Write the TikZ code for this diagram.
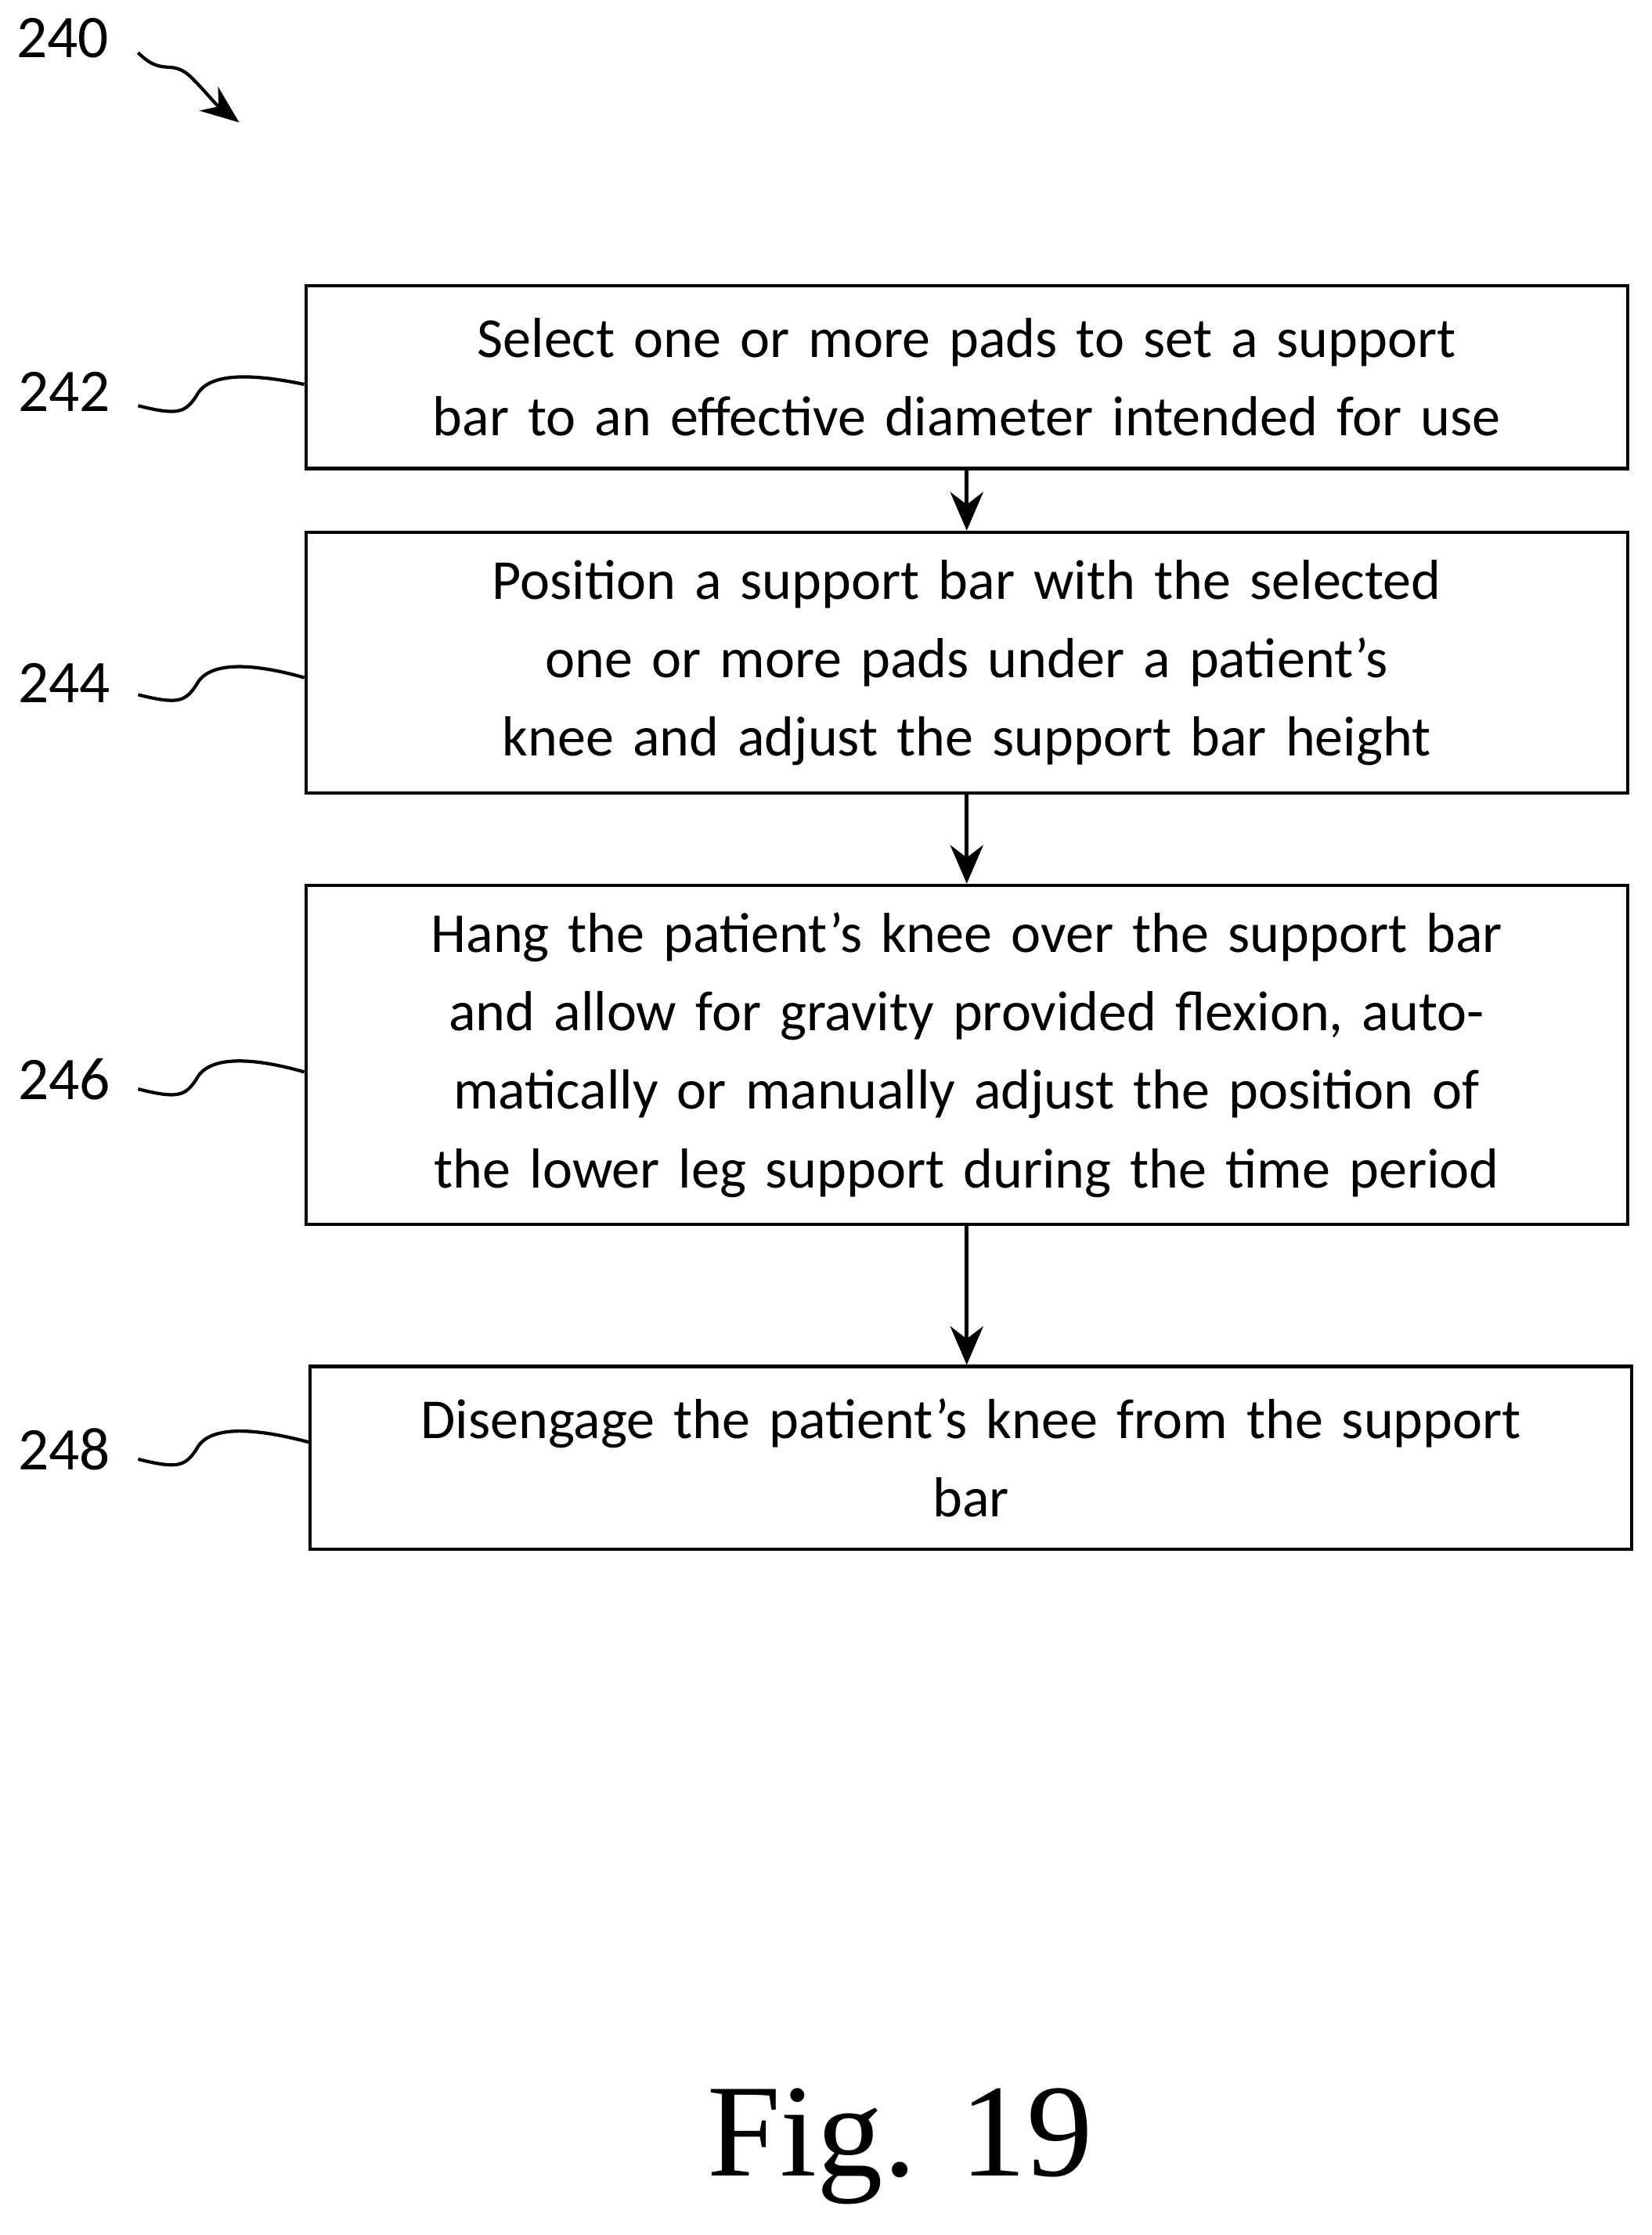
\documentclass[tikz,border=0pt]{standalone}
\usepackage{fontspec}
\setmainfont{Carlito}
\newfontfamily\figfont{Liberation Serif}
\usetikzlibrary{arrows.meta,positioning}

\begin{document}
\begin{tikzpicture}[x=0.01818cm,y=-0.01818cm]
\tikzstyle{stepbox} = [draw=black, line width=1.2pt, minimum width=16.87cm, text width=16.6cm,
  align=center, font=\fontsize{20.5}{28.5}\selectfont, inner sep=0pt]
\tikzstyle{ref} = [font=\fontsize{22}{26}\selectfont, inner sep=2pt]
\tikzstyle{lead} = [draw=black, line width=1.2pt]
\tikzstyle{flow} = [draw=black, line width=1.4pt, -{Stealth[length=14pt,width=12pt]}]

\useasboundingbox (0,0) rectangle (1160,1570);

\node[stepbox, minimum height=2.33cm] (s242) at (679,265) {Select one or more pads to set a support bar to an effective diameter intended for use};
\node[stepbox, minimum height=3.33cm] (s244) at (679,465.5) {Position a support bar with the selected one or more pads under a patient’s knee and adjust the support bar height};
\node[stepbox, minimum height=4.33cm] (s246) at (679,741) {Hang the patient’s knee over the support bar and allow for gravity provided flexion, automatically or manually adjust the position of the lower leg support during the time period};
\node[stepbox, minimum height=2.33cm] (s248) at (682,1024) {Disengage the patient’s knee from the support\\bar};

\path[flow] (s242) -- (s244);
\path[flow] (s244) -- (s246);
\path[flow] (s246.south) -- (s248.north -| s246.south);

% reference numerals
\node[ref] (n240) at (44,27) {240};
\node[ref] (n242) at (45,275) {242};
\node[ref] (n244) at (45,480) {244};
\node[ref] (n246) at (45,758) {246};
\node[ref] (n248) at (45,1018) {248};

\draw[lead, -{Stealth[length=14pt,width=11pt]}] (97,37) .. controls (115,55) and (120,40) .. (135,55) .. controls (145,65) and (150,72) .. (168,86);
\draw[lead] (97,285) .. controls (125,292) and (130,290) .. (138,278) .. controls (146,262) and (175,262) .. (s242.west |- 0,270);
\draw[lead] (97,488) .. controls (125,495) and (130,493) .. (138,481) .. controls (146,465) and (175,465) .. (s244.west |- 0,476);
\draw[lead] (97,765) .. controls (125,772) and (130,770) .. (138,758) .. controls (146,742) and (175,742) .. (s246.west |- 0,753);
\draw[lead] (97,1025) .. controls (125,1032) and (130,1030) .. (138,1018) .. controls (146,1002) and (175,1002) .. (s248.west |- 0,1013);

\node[font=\figfont\fontsize{48}{56}\selectfont] (fig) at (632,1508) {Fig. 19};
\end{tikzpicture}
\end{document}
